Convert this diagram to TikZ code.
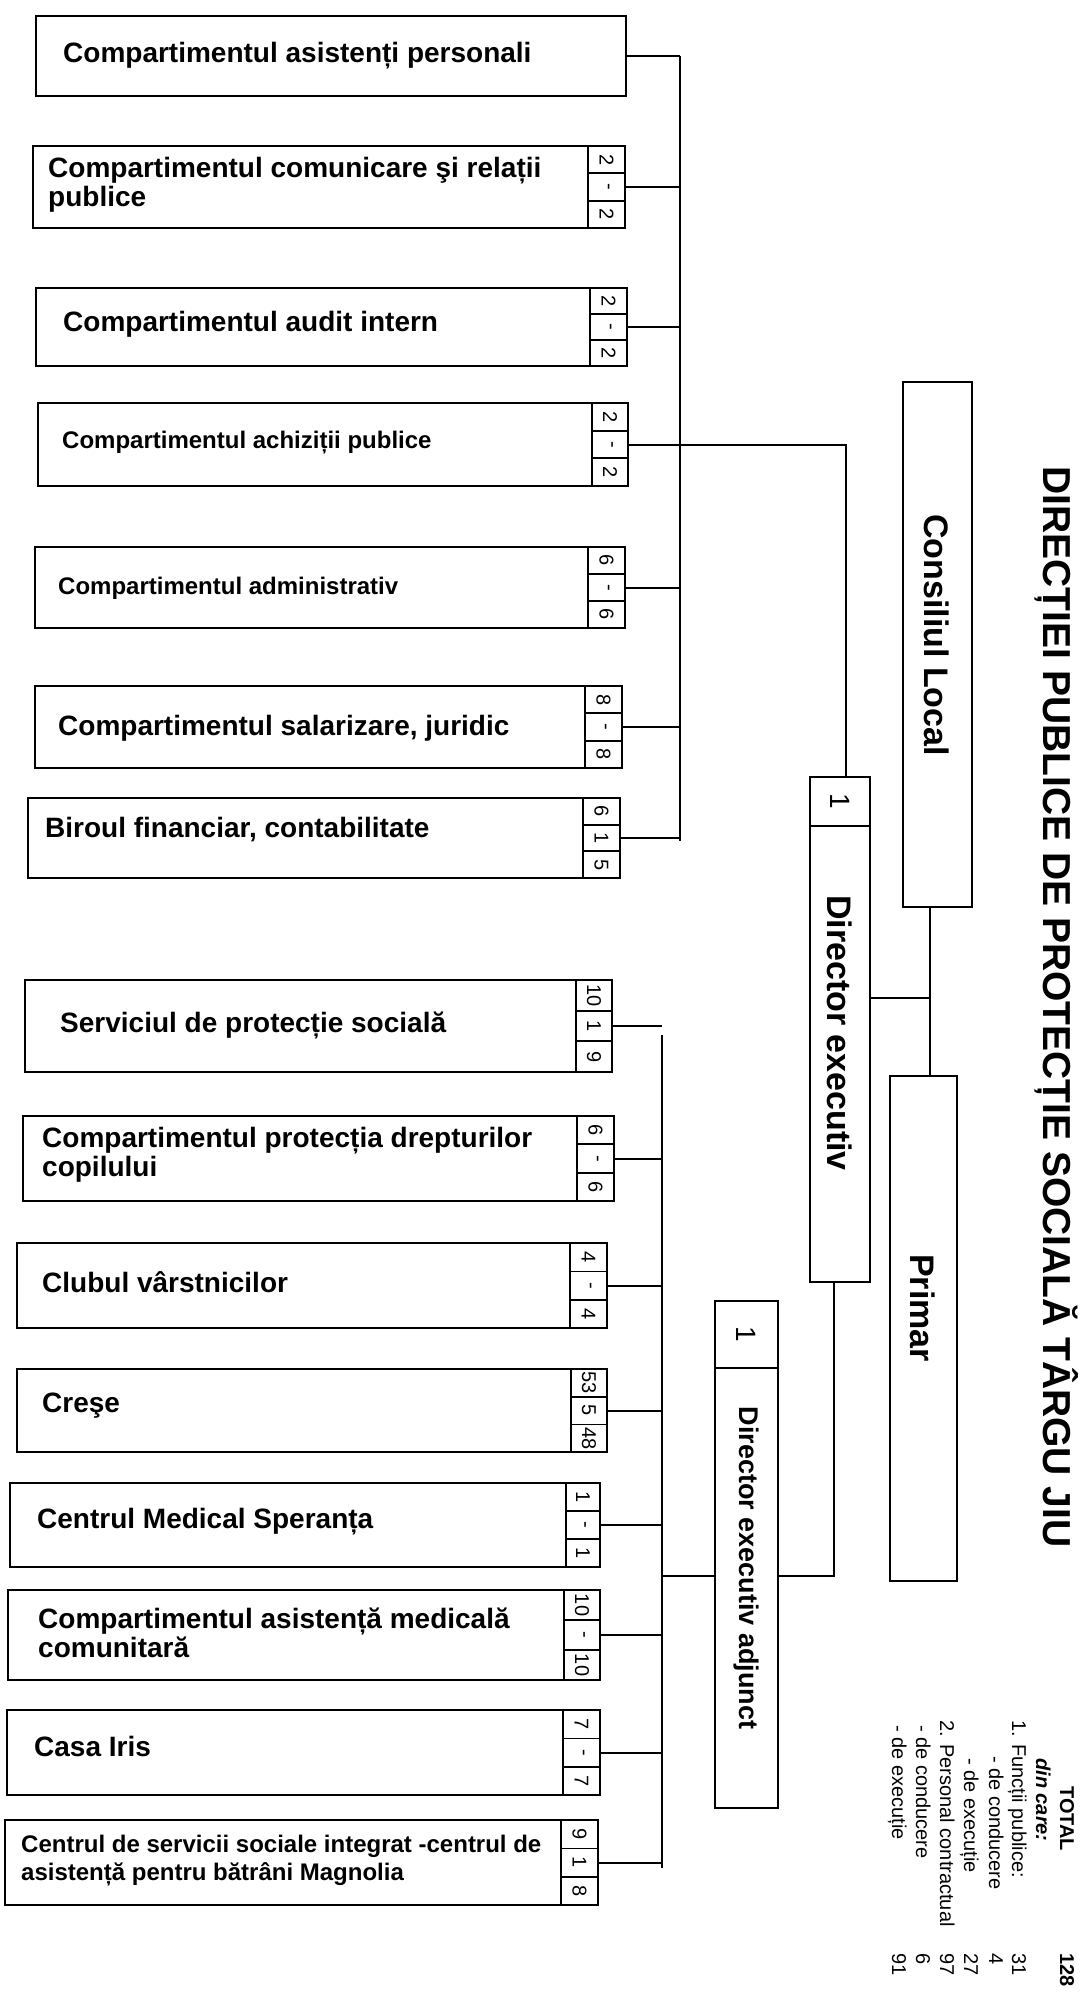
\documentclass[tikz,border=0pt]{standalone}
\usepackage{fontspec}
\setmainfont{Liberation Sans}
\newcommand{\orgbox}[5]{%
  \pgfmathsetmacro{\obW}{#4-#2}\pgfmathsetmacro{\obH}{#5-#3}%
  \node[box, minimum width=\obW pt, minimum height=\obH pt] (#1) at (#2,#3) {};}
\newcommand{\cellcol}[8]{%
  \pgfmathsetmacro{\ccW}{#4-#2}\pgfmathsetmacro{\ccH}{(#5-#3)/3}%
  \pgfmathsetmacro{\ccYa}{#3}\pgfmathsetmacro{\ccYb}{#3+\ccH}\pgfmathsetmacro{\ccYc}{#3+2*\ccH}%
  \node[cellbox, minimum width=\ccW pt, minimum height=\ccH pt] (#1c1) at (#2,\ccYa) {\rotatebox{-90}{#6}};
  \node[cellbox, minimum width=\ccW pt, minimum height=\ccH pt] (#1c2) at (#2,\ccYb) {\rotatebox{-90}{#7}};
  \node[cellbox, minimum width=\ccW pt, minimum height=\ccH pt] (#1c3) at (#2,\ccYc) {\rotatebox{-90}{#8}};}
\begin{document}
\begin{tikzpicture}[x=1pt,y=-1pt,
  box/.style={draw, line width=2.2pt, inner sep=0pt, outer sep=0pt, anchor=north west},
  cellbox/.style={draw, line width=1.7pt, inner sep=0pt, outer sep=0pt, anchor=north west, font=\fontsize{20}{20}\selectfont},
  lbl/.style={anchor=west, inner sep=0pt, align=left, font=\bfseries\fontsize{28}{29}\selectfont},
  lbls/.style={lbl, font=\bfseries\fontsize{24}{28}\selectfont},
  conn/.style={line width=2pt},
  vlbl/.style={rotate=-90, inner sep=0pt, font=\bfseries\fontsize{34}{36}\selectfont},
  tot/.style={rotate=-90, anchor=base west, inner sep=0pt, font=\fontsize{20}{20}\selectfont},
]
\fill[white] (0,0) rectangle (1080,1992);
\useasboundingbox (0,0) rectangle (1080,1992);

% ---- upper group
\orgbox{b1}{36}{16}{626}{96}
\node[lbl] (b1t) at (63,56) {Compartimentul asistenți personali};
\orgbox{b2}{33}{146}{625}{228}
\cellcol{b2}{588}{146}{625}{228}{2}{-}{2}
\node[lbl] (b2t) at (48,185) {Compartimentul comunicare şi relații\\publice};
\orgbox{b3}{36}{288}{627}{366}
\cellcol{b3}{590}{288}{627}{366}{2}{-}{2}
\node[lbl] (b3t) at (63,324) {Compartimentul audit intern};
\orgbox{b4}{38}{403}{628}{486}
\cellcol{b4}{592}{403}{628}{486}{2}{-}{2}
\node[lbls] (b4t) at (62,443) {Compartimentul achiziții publice};
\orgbox{b5}{35}{547}{625}{628}
\cellcol{b5}{588}{547}{625}{628}{6}{-}{6}
\node[lbls] (b5t) at (58,588) {Compartimentul administrativ};
\orgbox{b6}{35}{686}{622}{768}
\cellcol{b6}{585}{686}{622}{768}{8}{-}{8}
\node[lbl] (b6t) at (58,728) {Compartimentul salarizare, juridic};
\orgbox{b7}{28}{798}{620}{878}
\cellcol{b7}{583}{798}{620}{878}{6}{1}{5}
\node[lbl] (b7t) at (45,830) {Biroul financiar, contabilitate};

% ---- lower group
\orgbox{s1}{25}{980}{612}{1072}
\cellcol{s1}{576}{980}{612}{1072}{10}{1}{9}
\node[lbl] (s1t) at (60,1025) {Serviciul de protecție socială};
\orgbox{s2}{23}{1116}{614}{1201}
\cellcol{s2}{577}{1116}{614}{1201}{6}{-}{6}
\node[lbl] (s2t) at (42,1155) {Compartimentul protecția drepturilor\\copilului};
\orgbox{s3}{17}{1243}{607}{1328}
\cellcol{s3}{570}{1243}{607}{1328}{4}{-}{4}
\node[lbl] (s3t) at (42,1282) {Clubul vârstnicilor};
\orgbox{s4}{17}{1369}{607}{1452}
\cellcol{s4}{571}{1369}{607}{1452}{53}{5}{48}
\node[lbl] (s4t) at (42,1406) {Creşe};
\orgbox{s5}{10}{1483}{600}{1567}
\cellcol{s5}{566}{1483}{600}{1567}{1}{-}{1}
\node[lbl] (s5t) at (37,1522) {Centrul Medical Speranța};
\orgbox{s6}{8}{1590}{600}{1680}
\cellcol{s6}{564}{1590}{600}{1680}{10}{-}{10}
\node[lbl] (s6t) at (38,1633) {Compartimentul asistență medicală\\comunitară};
\orgbox{s7}{7}{1710}{600}{1795}
\cellcol{s7}{563}{1710}{600}{1795}{7}{-}{7}
\node[lbl] (s7t) at (34,1746) {Casa Iris};
\orgbox{s8}{5}{1820}{598}{1905}
\cellcol{s8}{561}{1820}{598}{1905}{9}{1}{8}
\node[lbls] (s8t) at (21,1861) {Centrul de servicii sociale integrat -centrul de\\asistență pentru bătrâni Magnolia};

% ---- central column
\orgbox{cl}{903}{382}{972}{907}
\node[vlbl] (clt) at (937,635) {Consiliul Local};
\orgbox{pr}{890}{1076}{957}{1581}
\node[vlbl] (prt) at (923,1308) {Primar};
\orgbox{dec}{810}{777}{870}{826}
\node[rotate=-90, inner sep=0pt, font=\fontsize{28}{28}\selectfont] (dect) at (dec.center) {1};
\orgbox{deb}{810}{826}{870}{1282}
\node[vlbl] (debt) at (840,1033) {Director executiv};
\orgbox{deac}{715}{1301}{778}{1368}
\node[rotate=-90, inner sep=0pt, font=\fontsize{28}{28}\selectfont] (deact) at (deac.center) {1};
\orgbox{deab}{715}{1368}{778}{1808}
\node[vlbl, font=\bfseries\fontsize{27}{29}\selectfont] (deabt) at (746,1568) {Director executiv adjunct};

% ---- title
\node[rotate=-90, anchor=base, inner sep=0pt, font=\bfseries\fontsize{39}{39}\selectfont] (title) at (1043,1007) {DIRECȚIEI PUBLICE DE PROTECȚIE SOCIALĂ TÂRGU JIU};

% ---- totals
\node[tot, font=\bfseries\fontsize{20}{20}\selectfont] (tTot) at (1060,1786) {TOTAL};
\node[tot, font=\bfseries\itshape\fontsize{20}{20}\selectfont] (tDin) at (1036,1758) {din care:};
\node[tot] (tF) at (1012,1720) {1. Funcții publice:};
\node[tot] (tFc) at (989,1756) {- de conducere};
\node[tot] (tFe) at (964,1758) {- de execuție};
\node[tot] (tP) at (940,1720) {2. Personal contractual};
\node[tot] (tPc) at (916,1725) {- de conducere};
\node[tot] (tPe) at (892,1725) {- de execuție};
\node[tot, font=\bfseries\fontsize{20}{20}\selectfont] (nTot) at (1060,1953) {128};
\node[tot] (nF) at (1012,1953) {31};
\node[tot] (nFc) at (989,1953) {4};
\node[tot] (nFe) at (964,1953) {27};
\node[tot] (nP) at (940,1953) {97};
\node[tot] (nPc) at (916,1953) {6};
\node[tot] (nPe) at (892,1953) {91};

% ---- connectors
\coordinate (bus1top) at (680,56);
\coordinate (bus1bot) at (680,841);
\coordinate (bus2top) at (662,1035);
\coordinate (bus2bot) at (662,1868);
\coordinate (acx) at (846,447);
\coordinate (vline) at (930,998);
\coordinate (dejoin) at (834,1576);

\draw[conn] (bus1top) -- (bus1bot);
\draw[conn] (b1.east) -- (b1.east -| bus1top);
\foreach \b in {b2,b3,b5,b6,b7} {\draw[conn] (\b c2.east) -- (\b c2.east -| bus1top);}
\draw[conn] (b4c2.east) -- (b4c2.east -| acx) -- (dec.north -| acx);

\draw[conn] (bus2top) -- (bus2bot);
\foreach \s in {s1,s2,s3,s4,s5,s6,s7,s8} {\draw[conn] (\s c2.east) -- (\s c2.east -| bus2top);}
\draw[conn] (deab.west |- dejoin) -- (dejoin -| bus2top);

\draw[conn] (cl.south -| vline) -- (pr.north -| vline);
\draw[conn] (deb.east |- vline) -- (vline);
\draw[conn] (deb.south -| dejoin) -- (dejoin) -- (deab.east |- dejoin);
\end{tikzpicture}
\end{document}
